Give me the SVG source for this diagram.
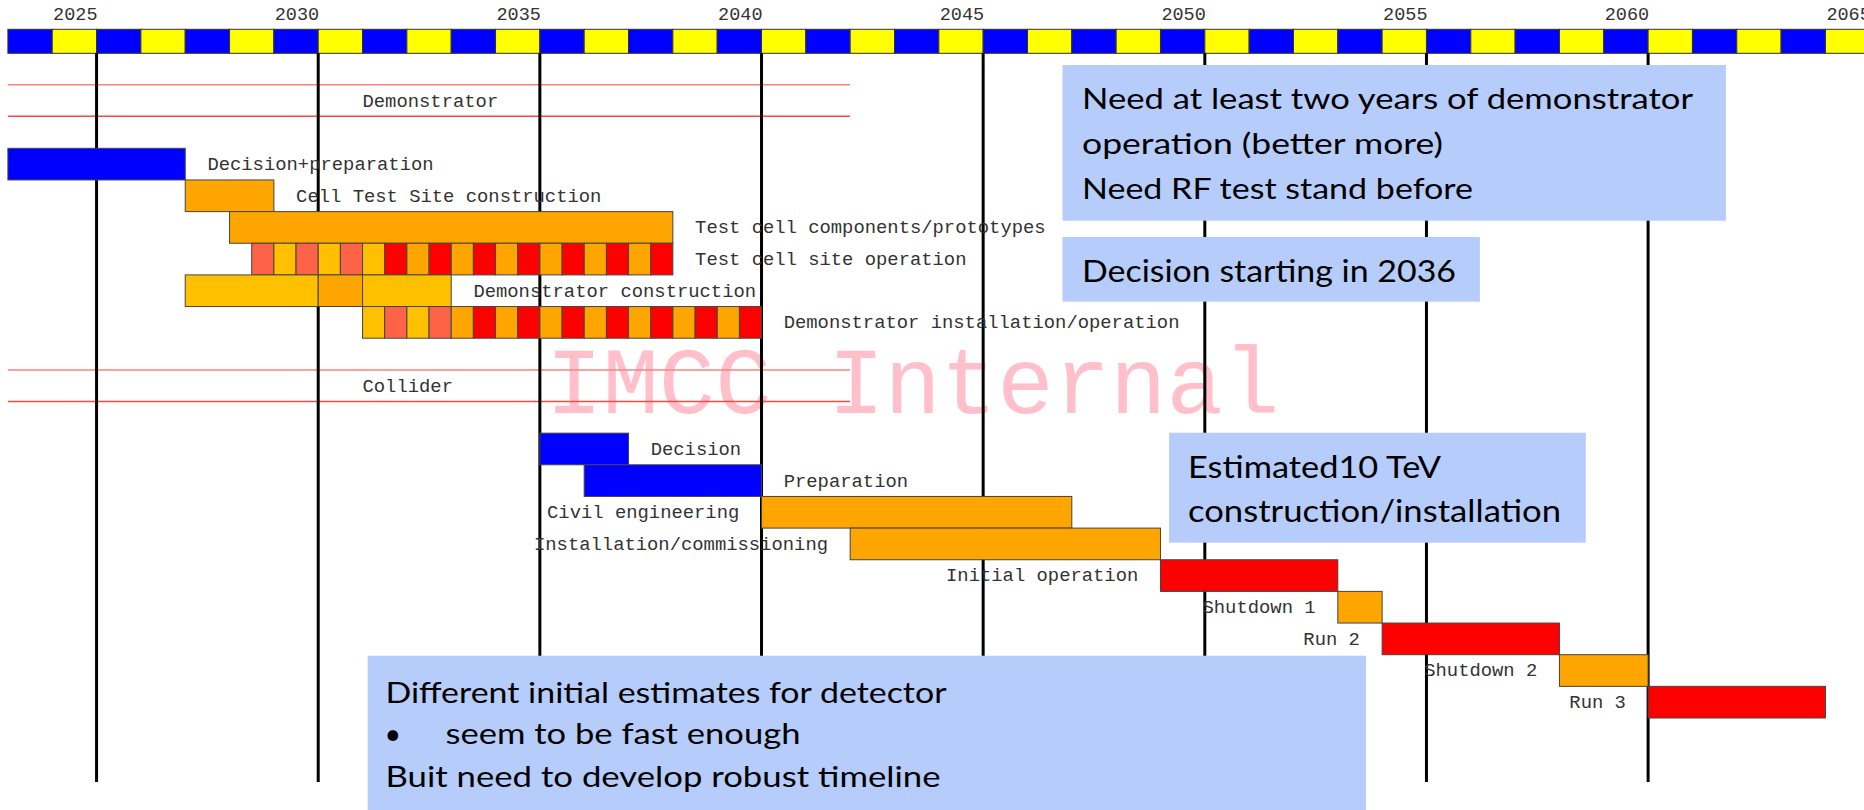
<svg xmlns="http://www.w3.org/2000/svg" width="1864" height="810" viewBox="0 0 1864 810">
  <style>
    .mono { font-family: "Liberation Mono", "DejaVu Sans Mono", monospace; font-size: 18.85px; fill: #333; }
    .yr { font-family: "Liberation Mono", "DejaVu Sans Mono", monospace; font-size: 18.5px; fill: #333; text-anchor: end; }
    .end { text-anchor: end; }
    .note { font-family: Lato, "Open Sans", "Liberation Sans", sans-serif; fill: #000; }
    .cell { stroke: #333; stroke-width: 1; }
    .bar { stroke: #444; stroke-width: 1; }
    .blue { fill: #0000ff; }
    .yellow { fill: #ffff00; }
    .orange { fill: #ffa500; }
    .amber { fill: #ffc000; }
    .tomato { fill: #ff6347; }
    .red { fill: #ff0000; }
    .callout { fill: #b6cdfb; }
    .grid { stroke: #000; stroke-width: 3; }
    .band1 { stroke: #ff8080; stroke-width: 1.5; }
    .band2 { stroke: #ff4444; stroke-width: 1.5; }
  </style>

  <rect width="1864" height="810" fill="#fff"/>

  <!-- watermark -->
  <text x="546" y="412.7" font-family="'Liberation Mono', monospace" font-size="94" fill="#ffc0cb">IMCC Internal</text>

  <!-- year scale: one cell per year -->
  <g id="timescale">
    <rect class="cell blue" x="7.9" y="29.3" width="44.33" height="24"/>
    <rect class="cell yellow" x="52.23" y="29.3" width="44.33" height="24"/>
    <rect class="cell blue" x="96.56" y="29.3" width="44.33" height="24"/>
    <rect class="cell yellow" x="140.89" y="29.3" width="44.33" height="24"/>
    <rect class="cell blue" x="185.22" y="29.3" width="44.33" height="24"/>
    <rect class="cell yellow" x="229.55" y="29.3" width="44.33" height="24"/>
    <rect class="cell blue" x="273.88" y="29.3" width="44.33" height="24"/>
    <rect class="cell yellow" x="318.21" y="29.3" width="44.33" height="24"/>
    <rect class="cell blue" x="362.54" y="29.3" width="44.33" height="24"/>
    <rect class="cell yellow" x="406.87" y="29.3" width="44.33" height="24"/>
    <rect class="cell blue" x="451.2" y="29.3" width="44.33" height="24"/>
    <rect class="cell yellow" x="495.53" y="29.3" width="44.33" height="24"/>
    <rect class="cell blue" x="539.86" y="29.3" width="44.33" height="24"/>
    <rect class="cell yellow" x="584.19" y="29.3" width="44.33" height="24"/>
    <rect class="cell blue" x="628.52" y="29.3" width="44.33" height="24"/>
    <rect class="cell yellow" x="672.85" y="29.3" width="44.33" height="24"/>
    <rect class="cell blue" x="717.18" y="29.3" width="44.33" height="24"/>
    <rect class="cell yellow" x="761.51" y="29.3" width="44.33" height="24"/>
    <rect class="cell blue" x="805.84" y="29.3" width="44.33" height="24"/>
    <rect class="cell yellow" x="850.17" y="29.3" width="44.33" height="24"/>
    <rect class="cell blue" x="894.5" y="29.3" width="44.33" height="24"/>
    <rect class="cell yellow" x="938.83" y="29.3" width="44.33" height="24"/>
    <rect class="cell blue" x="983.16" y="29.3" width="44.33" height="24"/>
    <rect class="cell yellow" x="1027.49" y="29.3" width="44.33" height="24"/>
    <rect class="cell blue" x="1071.82" y="29.3" width="44.33" height="24"/>
    <rect class="cell yellow" x="1116.15" y="29.3" width="44.33" height="24"/>
    <rect class="cell blue" x="1160.48" y="29.3" width="44.33" height="24"/>
    <rect class="cell yellow" x="1204.81" y="29.3" width="44.33" height="24"/>
    <rect class="cell blue" x="1249.14" y="29.3" width="44.33" height="24"/>
    <rect class="cell yellow" x="1293.47" y="29.3" width="44.33" height="24"/>
    <rect class="cell blue" x="1337.8" y="29.3" width="44.33" height="24"/>
    <rect class="cell yellow" x="1382.13" y="29.3" width="44.33" height="24"/>
    <rect class="cell blue" x="1426.46" y="29.3" width="44.33" height="24"/>
    <rect class="cell yellow" x="1470.79" y="29.3" width="44.33" height="24"/>
    <rect class="cell blue" x="1515.12" y="29.3" width="44.33" height="24"/>
    <rect class="cell yellow" x="1559.45" y="29.3" width="44.33" height="24"/>
    <rect class="cell blue" x="1603.78" y="29.3" width="44.33" height="24"/>
    <rect class="cell yellow" x="1648.11" y="29.3" width="44.33" height="24"/>
    <rect class="cell blue" x="1692.44" y="29.3" width="44.33" height="24"/>
    <rect class="cell yellow" x="1736.77" y="29.3" width="44.33" height="24"/>
    <rect class="cell blue" x="1781.1" y="29.3" width="44.33" height="24"/>
    <rect class="cell yellow" x="1825.43" y="29.3" width="44.33" height="24"/>
    <text class="yr" x="97.5" y="19.5">2025</text>
    <text class="yr" x="319.2" y="19.5">2030</text>
    <text class="yr" x="540.9" y="19.5">2035</text>
    <text class="yr" x="762.5" y="19.5">2040</text>
    <text class="yr" x="984.2" y="19.5">2045</text>
    <text class="yr" x="1205.8" y="19.5">2050</text>
    <text class="yr" x="1427.5" y="19.5">2055</text>
    <text class="yr" x="1649.1" y="19.5">2060</text>
    <text class="yr" x="1870.8" y="19.5">2065</text>
  </g>

  <!-- section headers -->
  <g id="section-demonstrator">
    <line class="band1" x1="7.9" y1="84.7" x2="850" y2="84.7"/>
    <line class="band2" x1="7.9" y1="116.3" x2="850" y2="116.3"/>
    <text class="mono" x="362.5" y="106.5">Demonstrator</text>
  </g>
  <g id="section-collider">
    <line class="band1" x1="7.9" y1="370" x2="850" y2="370"/>
    <line class="band2" x1="7.9" y1="401.6" x2="850" y2="401.6"/>
    <text class="mono" x="362.5" y="391.7">Collider</text>
  </g>

  <!-- five-year grid lines -->
  <g id="grid">
    <line class="grid" x1="96.56" y1="53.3" x2="96.56" y2="782"/>
    <line class="grid" x1="318.21" y1="53.3" x2="318.21" y2="782"/>
    <line class="grid" x1="539.86" y1="53.3" x2="539.86" y2="782"/>
    <line class="grid" x1="761.51" y1="53.3" x2="761.51" y2="782"/>
    <line class="grid" x1="983.16" y1="53.3" x2="983.16" y2="782"/>
    <line class="grid" x1="1204.81" y1="53.3" x2="1204.81" y2="782"/>
    <line class="grid" x1="1426.46" y1="53.3" x2="1426.46" y2="782"/>
    <line class="grid" x1="1648.11" y1="53.3" x2="1648.11" y2="782"/>
  </g>

  <!-- demonstrator tasks -->
  <g id="task-decision-preparation">
    <rect class="bar blue" x="7.9" y="148.3" width="177.32" height="31.65"/>
    <text class="mono" x="207.4" y="170">Decision+preparation</text>
  </g>
  <g id="task-cell-test-site-construction">
    <rect class="bar orange" x="185.22" y="179.95" width="88.66" height="31.65"/>
    <text class="mono" x="296.1" y="201.65">Cell Test Site construction</text>
  </g>
  <g id="task-test-cell-components">
    <rect class="bar orange" x="229.55" y="211.6" width="443.3" height="31.65"/>
    <text class="mono" x="695.1" y="233.3">Test cell components/prototypes</text>
  </g>
  <g id="task-test-cell-site-operation">
    <rect class="bar tomato" x="251.7" y="243.25" width="22.17" height="31.65"/>
    <rect class="bar amber" x="273.87" y="243.25" width="22.17" height="31.65"/>
    <rect class="bar tomato" x="296.04" y="243.25" width="22.17" height="31.65"/>
    <rect class="bar amber" x="318.21" y="243.25" width="22.17" height="31.65"/>
    <rect class="bar tomato" x="340.38" y="243.25" width="22.17" height="31.65"/>
    <rect class="bar amber" x="362.55" y="243.25" width="22.17" height="31.65"/>
    <rect class="bar red" x="384.72" y="243.25" width="22.17" height="31.65"/>
    <rect class="bar orange" x="406.89" y="243.25" width="22.17" height="31.65"/>
    <rect class="bar red" x="429.06" y="243.25" width="22.17" height="31.65"/>
    <rect class="bar orange" x="451.23" y="243.25" width="22.17" height="31.65"/>
    <rect class="bar red" x="473.4" y="243.25" width="22.17" height="31.65"/>
    <rect class="bar orange" x="495.57" y="243.25" width="22.17" height="31.65"/>
    <rect class="bar red" x="517.74" y="243.25" width="22.17" height="31.65"/>
    <rect class="bar orange" x="539.91" y="243.25" width="22.17" height="31.65"/>
    <rect class="bar red" x="562.08" y="243.25" width="22.17" height="31.65"/>
    <rect class="bar orange" x="584.25" y="243.25" width="22.17" height="31.65"/>
    <rect class="bar red" x="606.42" y="243.25" width="22.17" height="31.65"/>
    <rect class="bar orange" x="628.59" y="243.25" width="22.17" height="31.65"/>
    <rect class="bar red" x="650.76" y="243.25" width="22.09" height="31.65"/>
    <text class="mono" x="695.1" y="264.95">Test cell site operation</text>
  </g>
  <g id="task-demonstrator-construction">
    <rect class="bar amber" x="185.22" y="274.9" width="132.99" height="31.65"/>
    <rect class="bar orange" x="318.21" y="274.9" width="44.33" height="31.65"/>
    <rect class="bar amber" x="362.54" y="274.9" width="88.66" height="31.65"/>
    <text class="mono" x="473.4" y="296.6">Demonstrator construction</text>
  </g>
  <g id="task-demonstrator-installation-operation">
    <rect class="bar amber" x="362.54" y="306.55" width="22.17" height="31.65"/>
    <rect class="bar tomato" x="384.71" y="306.55" width="22.17" height="31.65"/>
    <rect class="bar amber" x="406.88" y="306.55" width="22.17" height="31.65"/>
    <rect class="bar tomato" x="429.05" y="306.55" width="22.17" height="31.65"/>
    <rect class="bar orange" x="451.22" y="306.55" width="22.17" height="31.65"/>
    <rect class="bar red" x="473.39" y="306.55" width="22.17" height="31.65"/>
    <rect class="bar orange" x="495.56" y="306.55" width="22.17" height="31.65"/>
    <rect class="bar red" x="517.73" y="306.55" width="22.17" height="31.65"/>
    <rect class="bar orange" x="539.9" y="306.55" width="22.17" height="31.65"/>
    <rect class="bar red" x="562.07" y="306.55" width="22.17" height="31.65"/>
    <rect class="bar orange" x="584.24" y="306.55" width="22.17" height="31.65"/>
    <rect class="bar red" x="606.41" y="306.55" width="22.17" height="31.65"/>
    <rect class="bar orange" x="628.58" y="306.55" width="22.17" height="31.65"/>
    <rect class="bar red" x="650.75" y="306.55" width="22.17" height="31.65"/>
    <rect class="bar orange" x="672.92" y="306.55" width="22.17" height="31.65"/>
    <rect class="bar red" x="695.09" y="306.55" width="22.17" height="31.65"/>
    <rect class="bar orange" x="717.26" y="306.55" width="22.17" height="31.65"/>
    <rect class="bar red" x="739.43" y="306.55" width="22.08" height="31.65"/>
    <text class="mono" x="783.7" y="328.25">Demonstrator installation/operation</text>
  </g>

  <!-- collider tasks -->
  <g id="task-decision">
    <rect class="bar blue" x="539.86" y="433.15" width="88.66" height="31.65"/>
    <text class="mono" x="650.7" y="454.85">Decision</text>
  </g>
  <g id="task-preparation">
    <rect class="bar blue" x="584.19" y="464.8" width="177.32" height="31.65"/>
    <text class="mono" x="783.7" y="486.5">Preparation</text>
  </g>
  <g id="task-civil-engineering">
    <rect class="bar orange" x="761.51" y="496.45" width="310.31" height="31.65"/>
    <text class="mono end" x="739.3" y="518.15">Civil engineering</text>
  </g>
  <g id="task-installation-commissioning">
    <rect class="bar orange" x="850.17" y="528.1" width="310.31" height="31.65"/>
    <text class="mono end" x="828" y="549.8">Installation/commissioning</text>
  </g>
  <g id="task-initial-operation">
    <rect class="bar red" x="1160.48" y="559.75" width="177.32" height="31.65"/>
    <text class="mono end" x="1138.3" y="581.45">Initial operation</text>
  </g>
  <g id="task-shutdown-1">
    <rect class="bar orange" x="1337.8" y="591.4" width="44.33" height="31.65"/>
    <text class="mono end" x="1315.6" y="613.1">Shutdown 1</text>
  </g>
  <g id="task-run-2">
    <rect class="bar red" x="1382.13" y="623.05" width="177.32" height="31.65"/>
    <text class="mono end" x="1359.9" y="644.75">Run 2</text>
  </g>
  <g id="task-shutdown-2">
    <rect class="bar orange" x="1559.45" y="654.7" width="88.66" height="31.65"/>
    <text class="mono end" x="1537.3" y="676.4">Shutdown 2</text>
  </g>
  <g id="task-run-3">
    <rect class="bar red" x="1648.11" y="686.35" width="177.32" height="31.65"/>
    <text class="mono end" x="1625.9" y="708.05">Run 3</text>
  </g>

  <!-- annotation boxes -->
  <g id="note-demonstrator-operation">
    <rect class="callout" x="1062.5" y="65" width="663.4" height="155.7"/>
    <text class="note" font-size="28" x="1082" y="109.4" textLength="611" lengthAdjust="spacingAndGlyphs">Need at least two years of demonstrator</text>
    <text class="note" font-size="28" x="1082" y="154.4" textLength="361" lengthAdjust="spacingAndGlyphs">operation (better more)</text>
    <text class="note" font-size="28" x="1082" y="199.4" textLength="391" lengthAdjust="spacingAndGlyphs">Need RF test stand before</text>
  </g>
  <g id="note-decision">
    <rect class="callout" x="1062.5" y="237" width="417.4" height="64.7"/>
    <text class="note" font-size="30" x="1082" y="281.7" textLength="374" lengthAdjust="spacingAndGlyphs">Decision starting in 2036</text>
  </g>
  <g id="note-construction">
    <rect class="callout" x="1169.1" y="432.7" width="416.7" height="110"/>
    <text class="note" font-size="31.5" x="1188" y="477.8" textLength="253" lengthAdjust="spacingAndGlyphs">Estimated10 TeV</text>
    <text class="note" font-size="31.5" x="1188" y="521.7" textLength="373" lengthAdjust="spacingAndGlyphs">construction/installation</text>
  </g>
  <g id="note-detector">
    <rect class="callout" x="367.7" y="655.7" width="998.3" height="154.3"/>
    <text class="note" font-size="28.7" x="385.5" y="703" textLength="561" lengthAdjust="spacingAndGlyphs">Different initial estimates for detector</text>
    <text class="note" font-size="28.7" x="384.5" y="743.5">•</text>
    <text class="note" font-size="28.7" x="445.5" y="743.5" textLength="355" lengthAdjust="spacingAndGlyphs">seem to be fast enough</text>
    <text class="note" font-size="28.7" x="385.5" y="786.7" textLength="555" lengthAdjust="spacingAndGlyphs">Buit need to develop robust timeline</text>
  </g>
</svg>
